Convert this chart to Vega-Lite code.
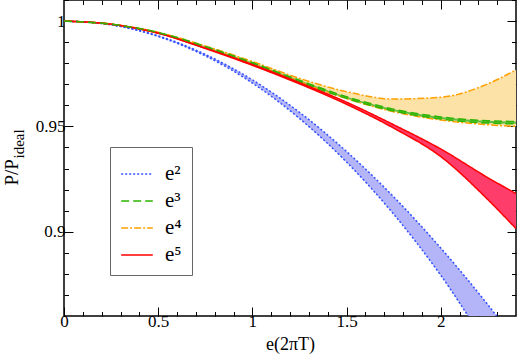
{
  "$schema": "https://vega.github.io/schema/vega-lite/v6.json",
  "width": 452,
  "height": 316,
  "autosize": {"type": "none"},
  "padding": {"left": 64, "top": 0, "right": 2, "bottom": 44},
  "background": "white",
  "config": {
    "view": {"stroke": "black", "strokeWidth": 1.5},
    "font": "Liberation Serif"
  },
  "data": {
    "values": [
      {"series": "e²", "x": 0, "lo": 1, "hi": 1},
      {"series": "e²", "x": 0.25, "lo": 0.9982, "hi": 0.9983},
      {"series": "e²", "x": 0.5, "lo": 0.9927, "hi": 0.993},
      {"series": "e²", "x": 0.75, "lo": 0.9835, "hi": 0.9842},
      {"series": "e²", "x": 1, "lo": 0.9706, "hi": 0.9721},
      {"series": "e²", "x": 1.25, "lo": 0.9538, "hi": 0.9567},
      {"series": "e²", "x": 1.5, "lo": 0.9331, "hi": 0.9381},
      {"series": "e²", "x": 1.75, "lo": 0.9084, "hi": 0.9166},
      {"series": "e²", "x": 2, "lo": 0.8794, "hi": 0.8923},
      {"series": "e²", "x": 2.25, "lo": 0.846, "hi": 0.8654},
      {"series": "e²", "x": 2.4, "lo": 0.8269, "hi": 0.848},
      {"series": "e⁴", "x": 0, "lo": 1, "hi": 1},
      {"series": "e⁴", "x": 0.25, "lo": 0.9985, "hi": 0.9985},
      {"series": "e⁴", "x": 0.5, "lo": 0.9944, "hi": 0.9947},
      {"series": "e⁴", "x": 0.75, "lo": 0.9876, "hi": 0.9882},
      {"series": "e⁴", "x": 1, "lo": 0.9797, "hi": 0.9808},
      {"series": "e⁴", "x": 1.25, "lo": 0.9712, "hi": 0.9728},
      {"series": "e⁴", "x": 1.5, "lo": 0.9632, "hi": 0.9665},
      {"series": "e⁴", "x": 1.75, "lo": 0.957, "hi": 0.963},
      {"series": "e⁴", "x": 2, "lo": 0.953, "hi": 0.9638},
      {"series": "e⁴", "x": 2.25, "lo": 0.9508, "hi": 0.9702},
      {"series": "e⁴", "x": 2.4, "lo": 0.95, "hi": 0.9768},
      {"series": "e⁵", "x": 0, "lo": 1, "hi": 1},
      {"series": "e⁵", "x": 0.25, "lo": 0.9985, "hi": 0.9985},
      {"series": "e⁵", "x": 0.5, "lo": 0.9942, "hi": 0.9943},
      {"series": "e⁵", "x": 0.75, "lo": 0.987, "hi": 0.9872},
      {"series": "e⁵", "x": 1, "lo": 0.979, "hi": 0.9794},
      {"series": "e⁵", "x": 1.25, "lo": 0.9702, "hi": 0.9708},
      {"series": "e⁵", "x": 1.5, "lo": 0.9605, "hi": 0.9615},
      {"series": "e⁵", "x": 1.75, "lo": 0.9492, "hi": 0.9508},
      {"series": "e⁵", "x": 2, "lo": 0.9357, "hi": 0.9393},
      {"series": "e⁵", "x": 2.25, "lo": 0.9153, "hi": 0.9257},
      {"series": "e⁵", "x": 2.4, "lo": 0.9015, "hi": 0.9181},
      {"series": "e³", "x": 0, "lo": 1, "hi": 1},
      {"series": "e³", "x": 0.25, "lo": 0.9985, "hi": 0.9985},
      {"series": "e³", "x": 0.5, "lo": 0.9944, "hi": 0.9946},
      {"series": "e³", "x": 0.75, "lo": 0.9876, "hi": 0.988},
      {"series": "e³", "x": 1, "lo": 0.9797, "hi": 0.9803},
      {"series": "e³", "x": 1.25, "lo": 0.9712, "hi": 0.9719},
      {"series": "e³", "x": 1.5, "lo": 0.9633, "hi": 0.9641},
      {"series": "e³", "x": 1.75, "lo": 0.9573, "hi": 0.9582},
      {"series": "e³", "x": 2, "lo": 0.9535, "hi": 0.9545},
      {"series": "e³", "x": 2.25, "lo": 0.9516, "hi": 0.9527},
      {"series": "e³", "x": 2.4, "lo": 0.9512, "hi": 0.9523}
    ]
  },
  "resolve": {
    "scale": {"x": "shared", "y": "shared"},
    "axis": {"x": "independent", "y": "independent"}
  },
  "layer": [
    {
      "mark": {"type": "area", "interpolate": "monotone", "clip": true, "opacity": 1},
      "encoding": {
        "x": {
          "field": "x", "type": "quantitative",
          "scale": {"domain": [0, 2.4], "nice": false, "zero": false},
          "axis": {
            "orient": "bottom",
            "values": [0,0.1,0.2,0.3,0.4,0.5,0.6,0.7,0.8,0.9,1,1.1,1.2,1.3,1.4,1.5,1.6,1.7,1.8,1.9,2,2.1,2.2,2.3],
            "format": "~g",
            "labelExpr": "abs(datum.value*2-round(datum.value*2))<0.001 ? datum.label : ''",
            "tickSize": {"condition": {"test": "abs(datum.value*2-round(datum.value*2))<0.001", "value": -9}, "value": -4.5},
            "tickColor": "black", "tickWidth": 1,
            "domain": false, "grid": false,
            "labelFlush": false, "labelOverlap": false, "labelBound": false,
            "labelPadding": 6,
            "labelFont": "Liberation Serif", "labelFontSize": 17, "labelColor": "black",
            "title": "e(2πT)", "titleFont": "Liberation Serif", "titleFontSize": 18,
            "titleFontWeight": "normal", "titleColor": "black", "titlePadding": 2
          }
        },
        "y": {
          "field": "lo", "type": "quantitative",
          "scale": {"domain": [0.86, 1.01], "nice": false, "zero": false},
          "axis": {
            "orient": "left",
            "values": [0.87,0.88,0.89,0.9,0.91,0.92,0.93,0.94,0.95,0.96,0.97,0.98,0.99,1,1.01],
            "format": "~g",
            "labelExpr": "abs(datum.value*20-round(datum.value*20))<0.001 ? datum.label : ''",
            "tickSize": {"condition": {"test": "abs(datum.value*20-round(datum.value*20))<0.001", "value": -9}, "value": -4.5},
            "tickColor": "black", "tickWidth": 1,
            "domain": false, "grid": false,
            "labelFlush": false, "labelOverlap": false, "labelBound": false,
            "labelPadding": 8,
            "labelFont": "Liberation Serif", "labelFontSize": 17, "labelColor": "black",
            "title": "P/P", "titleFont": "Liberation Serif", "titleFontSize": 19,
            "titleFontWeight": "normal", "titleColor": "black",
            "titleAngle": 270, "titleAlign": "left", "titleBaseline": "alphabetic",
            "titleX": -47, "titleY": 185
          }
        },
        "y2": {"field": "hi"},
        "fill": {
          "field": "series", "type": "nominal",
          "scale": {"domain": ["e³", "e²", "e⁴", "e⁵"], "range": ["#5cc040", "#b4b4f8", "#fde2a8", "#ff3d6b"]},
          "legend": null
        }
      }
    },
    {
      "mark": {"type": "line", "interpolate": "monotone", "clip": true, "strokeWidth": 1.5},
      "encoding": {
        "x": {"field": "x", "type": "quantitative", "axis": null},
        "y": {
          "field": "lo", "type": "quantitative",
          "axis": {
            "orient": "left", "ticks": false, "labels": false, "domain": false, "grid": false,
            "title": "ideal", "titleFont": "Liberation Serif", "titleFontSize": 15,
            "titleFontWeight": "normal", "titleColor": "black",
            "titleAngle": 270, "titleAlign": "left", "titleBaseline": "alphabetic",
            "titleX": -41, "titleY": 158
          }
        },
        "color": {
          "field": "series", "type": "nominal",
          "scale": {"domain": ["e²", "e³", "e⁴", "e⁵"], "range": ["#3050ff", "#2db400", "#ffa000", "#ff0000"]},
          "legend": {
            "orient": "none", "legendX": 46, "legendY": 147, "title": null,
            "symbolType": "stroke", "symbolSize": 1000, "symbolStrokeWidth": 1.5,
            "labelFont": "Liberation Serif", "labelFontSize": 21, "labelColor": "black",
            "labelOffset": 11, "padding": 10, "rowPadding": 0,
            "strokeColor": "#666666", "fillColor": "white"
          }
        },
        "strokeDash": {
          "field": "series", "type": "nominal",
          "scale": {"domain": ["e²", "e³", "e⁴", "e⁵"], "range": [[2, 2], [8, 4], [7, 2, 2, 2], [1, 0]]},
          "legend": {
            "orient": "none", "legendX": 46, "legendY": 147, "title": null,
            "symbolType": "stroke", "symbolSize": 1000, "symbolStrokeWidth": 1.5,
            "labelFont": "Liberation Serif", "labelFontSize": 21, "labelColor": "black",
            "labelOffset": 11, "padding": 10, "rowPadding": 0,
            "strokeColor": "#666666", "fillColor": "white"
          }
        }
      }
    },
    {
      "mark": {"type": "line", "interpolate": "monotone", "clip": true, "strokeWidth": 1.5},
      "encoding": {
        "x": {
          "field": "x", "type": "quantitative",
          "axis": {
            "orient": "top",
            "values": [0.1,0.2,0.3,0.4,0.5,0.6,0.7,0.8,0.9,1,1.1,1.2,1.3,1.4,1.5,1.6,1.7,1.8,1.9,2,2.1,2.2,2.3],
            "labels": false, "domain": false, "grid": false, "title": null,
            "tickSize": {"condition": {"test": "abs(datum.value*2-round(datum.value*2))<0.001", "value": -9}, "value": -4.5},
            "tickColor": "black", "tickWidth": 1
          }
        },
        "y": {
          "field": "hi", "type": "quantitative",
          "axis": {
            "orient": "right",
            "values": [0.87,0.88,0.89,0.9,0.91,0.92,0.93,0.94,0.95,0.96,0.97,0.98,0.99,1,1.01],
            "labels": false, "domain": false, "grid": false, "title": null,
            "tickSize": {"condition": {"test": "abs(datum.value*20-round(datum.value*20))<0.001", "value": -9}, "value": -4.5},
            "tickColor": "black", "tickWidth": 1
          }
        },
        "color": {"field": "series", "type": "nominal"},
        "strokeDash": {"field": "series", "type": "nominal"}
      }
    }
  ]
}
